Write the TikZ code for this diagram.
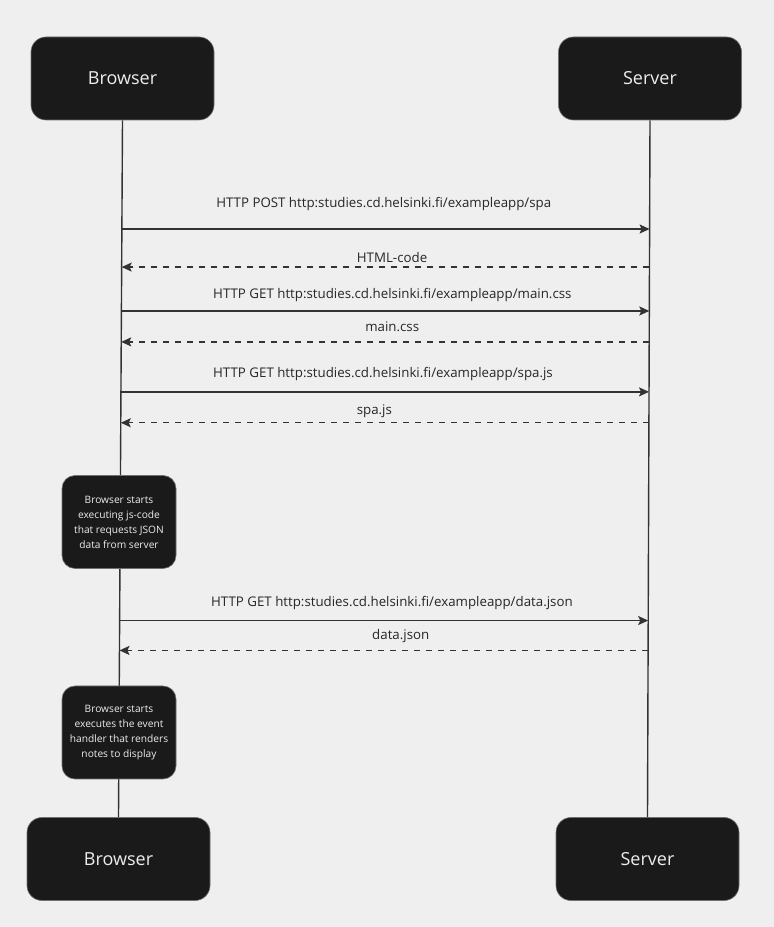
\documentclass[tikz,border=0pt]{standalone}
\usepackage{fontspec}
\setmainfont{Open Sans}
\usetikzlibrary{arrows.meta,calc}
\definecolor{bg}{HTML}{EFEFEF}
\definecolor{boxfill}{HTML}{1A1A1A}
\definecolor{boxtext}{HTML}{EDEDED}
\definecolor{ink}{HTML}{333333}
\begin{document}
\begin{tikzpicture}[x=1pt,y=1pt,
  actor/.style={fill=boxfill,draw=ink!70,line width=0.6pt,rounded corners=15pt,
    minimum width=183pt,minimum height=83pt,text=boxtext,font=\fontsize{18}{22}\selectfont},
  note/.style={fill=boxfill,draw=ink!70,line width=0.6pt,rounded corners=13pt,
    minimum width=114pt,minimum height=93pt,text=boxtext,align=center,
    font=\fontsize{10.2}{15}\selectfont},
  lifeline/.style={draw=ink,line width=1.4pt},
  msg/.style={draw=ink,line width=1.4pt,-{Stealth[length=10pt,width=9pt,inset=2pt]}},
  reply/.style={msg,dash pattern=on 6pt off 6pt},
  lbl/.style={text=black!85,font=\fontsize{13.3}{15}\selectfont,inner sep=0pt}]
% canvas
\path[fill=bg] (0,0) rectangle (774,927);
\useasboundingbox (0,0) rectangle (774,927);

% participants
\node[actor] (bt) at (122.5,848.5) {Browser};
\node[actor] (st) at (650,848.5) {Server};
\node[actor] (bb) at (118.5,68) {Browser};
\node[actor] (sb) at (647.5,68) {Server};

% lifelines
\draw[lifeline] (bt.south) -- (bb.north);
\draw[lifeline] (st.south) -- (sb.north);

% points on the lifelines where messages attach
\foreach \n/\t in {1/0.156,2/0.2106,3/0.2736,4/0.318,5/0.3897,6/0.434,7/0.7178,8/0.7607}{
  \coordinate (b\n) at ($(bt.south)!\t!(bb.north)$);
  \coordinate (s\n) at ($(st.south)!\t!(sb.north)$);
}

% messages
\draw[msg] (b1) -- (s1) node[lbl,midway,xshift=-2pt,yshift=25pt] {HTTP POST http:studies.cd.helsinki.fi/exampleapp/spa};
\draw[reply] (s2) -- (b2) node[lbl,midway,xshift=6.5pt,yshift=10pt] {HTML-code};
\draw[msg] (b3) -- (s3) node[lbl,midway,xshift=7pt,yshift=16pt] {HTTP GET http:studies.cd.helsinki.fi/exampleapp/main.css};
\draw[reply] (s4) -- (b4) node[lbl,midway,xshift=7pt,yshift=15pt] {main.css};
\draw[msg] (b5) -- (s5) node[lbl,midway,xshift=-2pt,yshift=18pt] {HTTP GET http:studies.cd.helsinki.fi/exampleapp/spa.js};
\draw[reply] (s6) -- (b6) node[lbl,midway,xshift=-10.5pt,yshift=12pt] {spa.js};
\draw[msg] (b7) -- (s7) node[lbl,midway,xshift=8pt,yshift=18pt] {HTTP GET http:studies.cd.helsinki.fi/exampleapp/data.json};
\draw[reply] (s8) -- (b8) node[lbl,midway,xshift=17pt,yshift=14pt] {data.json};

% notes on the browser lifeline
\node[note] (n1) at (119,405) {Browser starts\\executing js-code\\that requests JSON\\data from server};
\node[note] (n2) at (119,194.5) {Browser starts\\executes the event\\handler that renders\\notes to display};
\end{tikzpicture}
\end{document}
